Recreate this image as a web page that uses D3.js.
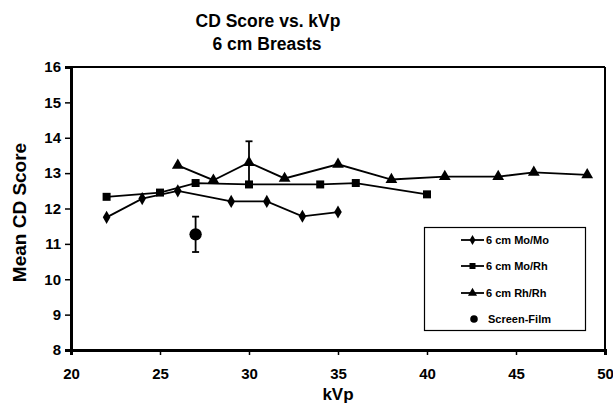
<!DOCTYPE html>
<html>
<head>
<meta charset="utf-8">
<script src="https://cdn.jsdelivr.net/npm/d3@7"></script>
<style>
  html, body { margin: 0; padding: 0; background: #fff; }
  svg { display: block; }
  text { font-family: "Liberation Sans", Arial, sans-serif; font-weight: bold; fill: #000; }
</style>
</head>
<body>
<svg id="chart" width="613" height="419"></svg>
<script>
// ---- Data ----
const titleLines = ["CD Score vs. kVp", "6 cm Breasts"];
const xTicks = [20, 25, 30, 35, 40, 45, 50];
const yTicks = [8, 9, 10, 11, 12, 13, 14, 15, 16];

const moMoKvp = [22, 24, 26, 29, 31, 33, 35];
const moMoScore = [11.75, 12.28, 12.5, 12.2, 12.2, 11.78, 11.9];

const moRhKvp = [22, 25, 27, 30, 34, 36, 40];
const moRhScore = [12.33, 12.45, 12.72, 12.68, 12.68, 12.72, 12.4];

const rhRhKvp = [26, 28, 30, 32, 35, 38, 41, 44, 46, 49];
const rhRhScore = [13.22, 12.8, 13.3, 12.85, 13.25, 12.82, 12.9, 12.9, 13.02, 12.95];
const rhRhErrKvp = [30];
const rhRhErr = [0.6];

const sfKvp = [27];
const sfScore = [11.27];
const sfErr = [0.5];

const legendLabels = ["6 cm Mo/Mo", "6 cm Mo/Rh", "6 cm Rh/Rh", "Screen-Film"];

// ---- Chart ----
const svg = d3.select("#chart");
const x = d3.scaleLinear().domain([20, 50]).range([71, 605]);
const y = d3.scaleLinear().domain([8, 16]).range([350, 67]);

// Title
svg.append("text").attr("x", 268).attr("y", 27).attr("text-anchor", "middle")
  .style("font-size", "17.5px").text(titleLines[0]);
svg.append("text").attr("x", 267).attr("y", 50).attr("text-anchor", "middle")
  .style("font-size", "17.5px").text(titleLines[1]);

// Frame (top and right)
svg.append("line").attr("x1", x(20)).attr("x2", x(50)).attr("y1", y(16)).attr("y2", y(16))
  .attr("stroke", "#000").attr("stroke-width", 2);
svg.append("line").attr("x1", x(50)).attr("x2", x(50)).attr("y1", y(16)).attr("y2", y(8))
  .attr("stroke", "#000").attr("stroke-width", 2);

// Axes
const yAxis = d3.axisLeft(y).tickValues(yTicks).tickSize(6).tickPadding(4).tickFormat(d3.format("d"));
const gy = svg.append("g").attr("transform", `translate(${x(20)},0)`).call(yAxis);
gy.select(".domain").attr("stroke", "#000").attr("stroke-width", 3);
gy.selectAll(".tick line").attr("stroke", "#000").attr("stroke-width", 1.5);
gy.selectAll(".tick text").style("font-size", "15px").style("font-family", "Liberation Sans, Arial, sans-serif").style("font-weight", "bold");

const xAxis = d3.axisBottom(x).tickValues(xTicks).tickSize(5).tickPadding(13).tickFormat(d3.format("d"));
const gx = svg.append("g").attr("transform", `translate(0,${y(8)})`).call(xAxis);
gx.select(".domain").attr("stroke", "#000").attr("stroke-width", 3);
gx.selectAll(".tick line").attr("stroke", "#000").attr("stroke-width", 1.5);
gx.selectAll(".tick text").style("font-size", "15px").style("font-family", "Liberation Sans, Arial, sans-serif").style("font-weight", "bold");

// Axis titles
svg.append("text").attr("transform", `translate(26,${(y(8) + y(16)) / 2 + 4}) rotate(-90)`)
  .attr("text-anchor", "middle").style("font-size", "19px").text("Mean CD Score");
svg.append("text").attr("x", 338).attr("y", 400).attr("text-anchor", "middle")
  .style("font-size", "17px").text("kVp");

// Series
const line = d3.line().x(d => x(d[0])).y(d => y(d[1]));
const moMo = moMoKvp.map((k, i) => [k, moMoScore[i]]);
const moRh = moRhKvp.map((k, i) => [k, moRhScore[i]]);
const rhRh = rhRhKvp.map((k, i) => [k, rhRhScore[i]]);

[moMo, moRh, rhRh].forEach(s => {
  svg.append("path").datum(s).attr("d", line).attr("fill", "none")
    .attr("stroke", "#000").attr("stroke-width", 1.8);
});

// Error bars
function errBar(kv, val, err, cap) {
  const g = svg.append("g").attr("stroke", "#000").attr("stroke-width", 1.8);
  g.append("line").attr("x1", x(kv)).attr("x2", x(kv)).attr("y1", y(val - err)).attr("y2", y(val + err));
  g.append("line").attr("x1", x(kv) - cap).attr("x2", x(kv) + cap).attr("y1", y(val + err)).attr("y2", y(val + err));
  g.append("line").attr("x1", x(kv) - cap).attr("x2", x(kv) + cap).attr("y1", y(val - err)).attr("y2", y(val - err));
}
rhRhErrKvp.forEach((k, i) => {
  const idx = rhRhKvp.indexOf(k);
  errBar(k, rhRhScore[idx], rhRhErr[i], 3.5);
});
sfKvp.forEach((k, i) => errBar(k, sfScore[i], sfErr[i], 3.5));

const diamond = d3.symbol().type(d3.symbolDiamond).size(50);
const square = d3.symbol().type(d3.symbolSquare).size(64);
const triangle = d3.symbol().type(d3.symbolTriangle).size(60);
const circle = d3.symbol().type(d3.symbolCircle).size(120);

function markers(data, sym) {
  svg.append("g").selectAll("path").data(data).join("path")
    .attr("transform", d => `translate(${x(d[0])},${y(d[1])})`)
    .attr("d", sym).attr("fill", "#000");
}
markers(moMo, diamond);
markers(moRh, square);
markers(rhRh, triangle);
markers(sfKvp.map((k, i) => [k, sfScore[i]]), circle);

// Legend
const lg = svg.append("g");
lg.append("rect").attr("x", 424.5).attr("y", 227.5).attr("width", 161).attr("height", 103)
  .attr("fill", "#fff").attr("stroke", "#000").attr("stroke-width", 1.2);
const legRows = [240, 266, 293, 319];
const legSyms = [
  d3.symbol().type(d3.symbolDiamond).size(30),
  d3.symbol().type(d3.symbolSquare).size(36),
  d3.symbol().type(d3.symbolTriangle).size(36),
  d3.symbol().type(d3.symbolCircle).size(45)
];
legendLabels.forEach((lab, i) => {
  const yy = legRows[i];
  if (i < 3) {
    lg.append("line").attr("x1", 461).attr("x2", 484).attr("y1", yy).attr("y2", yy)
      .attr("stroke", "#000").attr("stroke-width", 1.8);
  }
  lg.append("path").attr("transform", `translate(${i < 3 ? 472.5 : 474},${yy})`).attr("d", legSyms[i]).attr("fill", "#000");
  lg.append("text").attr("x", i < 3 ? 486 : 488).attr("y", yy + 4).style("font-size", "11px").text(lab);
});
</script>
</body>
</html>
